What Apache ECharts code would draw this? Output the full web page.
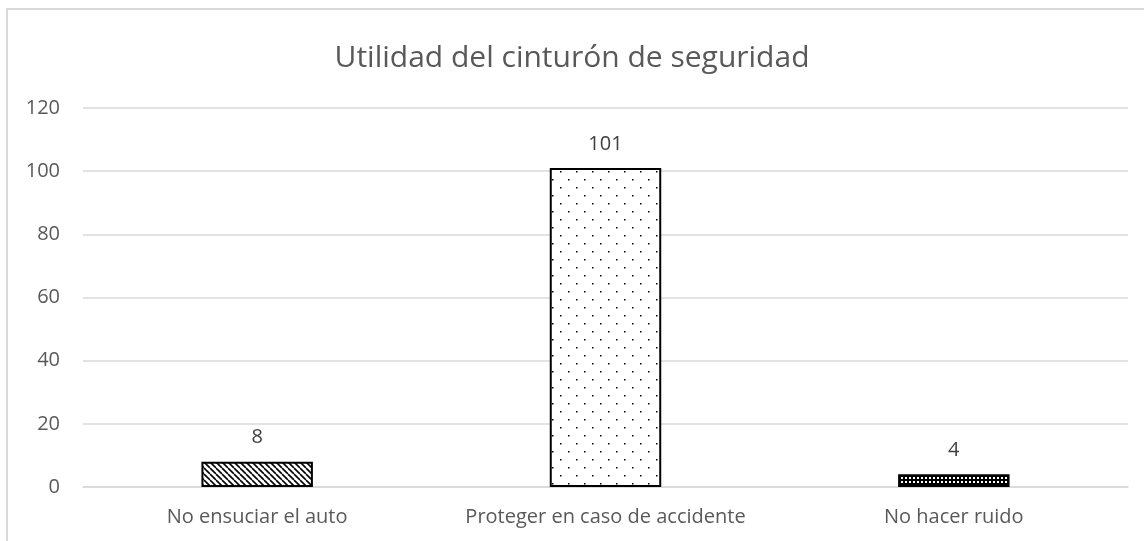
<!DOCTYPE html>
<html>
<head>
<meta charset="utf-8">
<script src="https://cdn.jsdelivr.net/npm/echarts@6/dist/echarts.min.js"></script>
<style>
  html, body { margin: 0; padding: 0; background: #fff; }
  #main { width: 1144px; height: 541px; }
</style>
</head>
<body>
<div id="main"></div>
<script>
// datos del grafico
const categories = ['No ensuciar el auto', 'Proteger en caso de accidente', 'No hacer ruido']
const values = [8, 101, 4]
const yTicks = { min: 0, max: 120, interval: 20 }

// tramas (patrones) para cada barra
function hatchPattern () {
  const c = document.createElement('canvas')
  c.width = 6; c.height = 6
  const g = c.getContext('2d')
  g.fillStyle = '#fff'; g.fillRect(0, 0, 6, 6)
  g.strokeStyle = '#000'; g.lineWidth = 1.6
  for (let k = -6; k <= 12; k += 6) {
    g.beginPath(); g.moveTo(k, 0); g.lineTo(k + 6, 6); g.stroke()
  }
  return c
}
function dotPattern () {
  const c = document.createElement('canvas')
  c.width = 16; c.height = 16
  const g = c.getContext('2d')
  g.fillStyle = '#fff'; g.fillRect(0, 0, 16, 16)
  g.fillStyle = '#000'
  g.fillRect(8, 3, 1.5, 1.5)
  g.fillRect(0, 11, 1.5, 1.5)
  return c
}
function gridPattern () {
  const c = document.createElement('canvas')
  c.width = 4; c.height = 4
  const g = c.getContext('2d')
  g.fillStyle = '#000'; g.fillRect(0, 0, 4, 4)
  g.fillStyle = '#fff'; g.fillRect(1, 1, 2, 2)
  return c
}

const patterns = [hatchPattern(), dotPattern(), gridPattern()]

const chart = echarts.init(document.getElementById('main'))
const option = {
  animation: false,
  backgroundColor: '#fff',
  title: {
    text: 'Utilidad del cinturón de seguridad',
    left: 'center',
    top: 38,
    textStyle: { color: '#595959', fontSize: 30, fontWeight: 'normal', fontFamily: 'Open Sans' }
  },
  graphic: [{
    type: 'rect',
    shape: { x: 7, y: 9, width: 1200, height: 600 },
    style: { fill: 'none', stroke: '#d9d9d9', lineWidth: 2 },
    silent: true
  }],
  grid: { left: 83, right: 16, top: 108, bottom: 54 },
  xAxis: {
    type: 'category',
    data: categories,
    axisTick: { show: false },
    axisLine: { lineStyle: { color: '#d9d9d9', width: 1.5 } },
    axisLabel: { color: '#595959', fontSize: 20, fontFamily: 'Open Sans', margin: 20, interval: 0, hideOverlap: false }
  },
  yAxis: {
    type: 'value',
    min: yTicks.min,
    max: yTicks.max,
    interval: yTicks.interval,
    axisLine: { show: false },
    axisTick: { show: false },
    splitLine: { lineStyle: { color: '#d9d9d9', width: 1.5 } },
    axisLabel: { color: '#595959', fontSize: 20, fontFamily: 'Open Sans', margin: 23 }
  },
  series: [{
    type: 'bar',
    barWidth: '32%',
    data: values.map((v, i) => ({
      value: v,
      itemStyle: { color: { image: patterns[i], repeat: 'repeat' } }
    })),
    itemStyle: { borderColor: '#000', borderWidth: 2 },
    label: {
      show: true,
      position: 'top',
      distance: 14,
      color: '#404040',
      fontSize: 20,
      fontFamily: 'Open Sans'
    }
  }]
}
chart.setOption(option)
</script>
</body>
</html>
